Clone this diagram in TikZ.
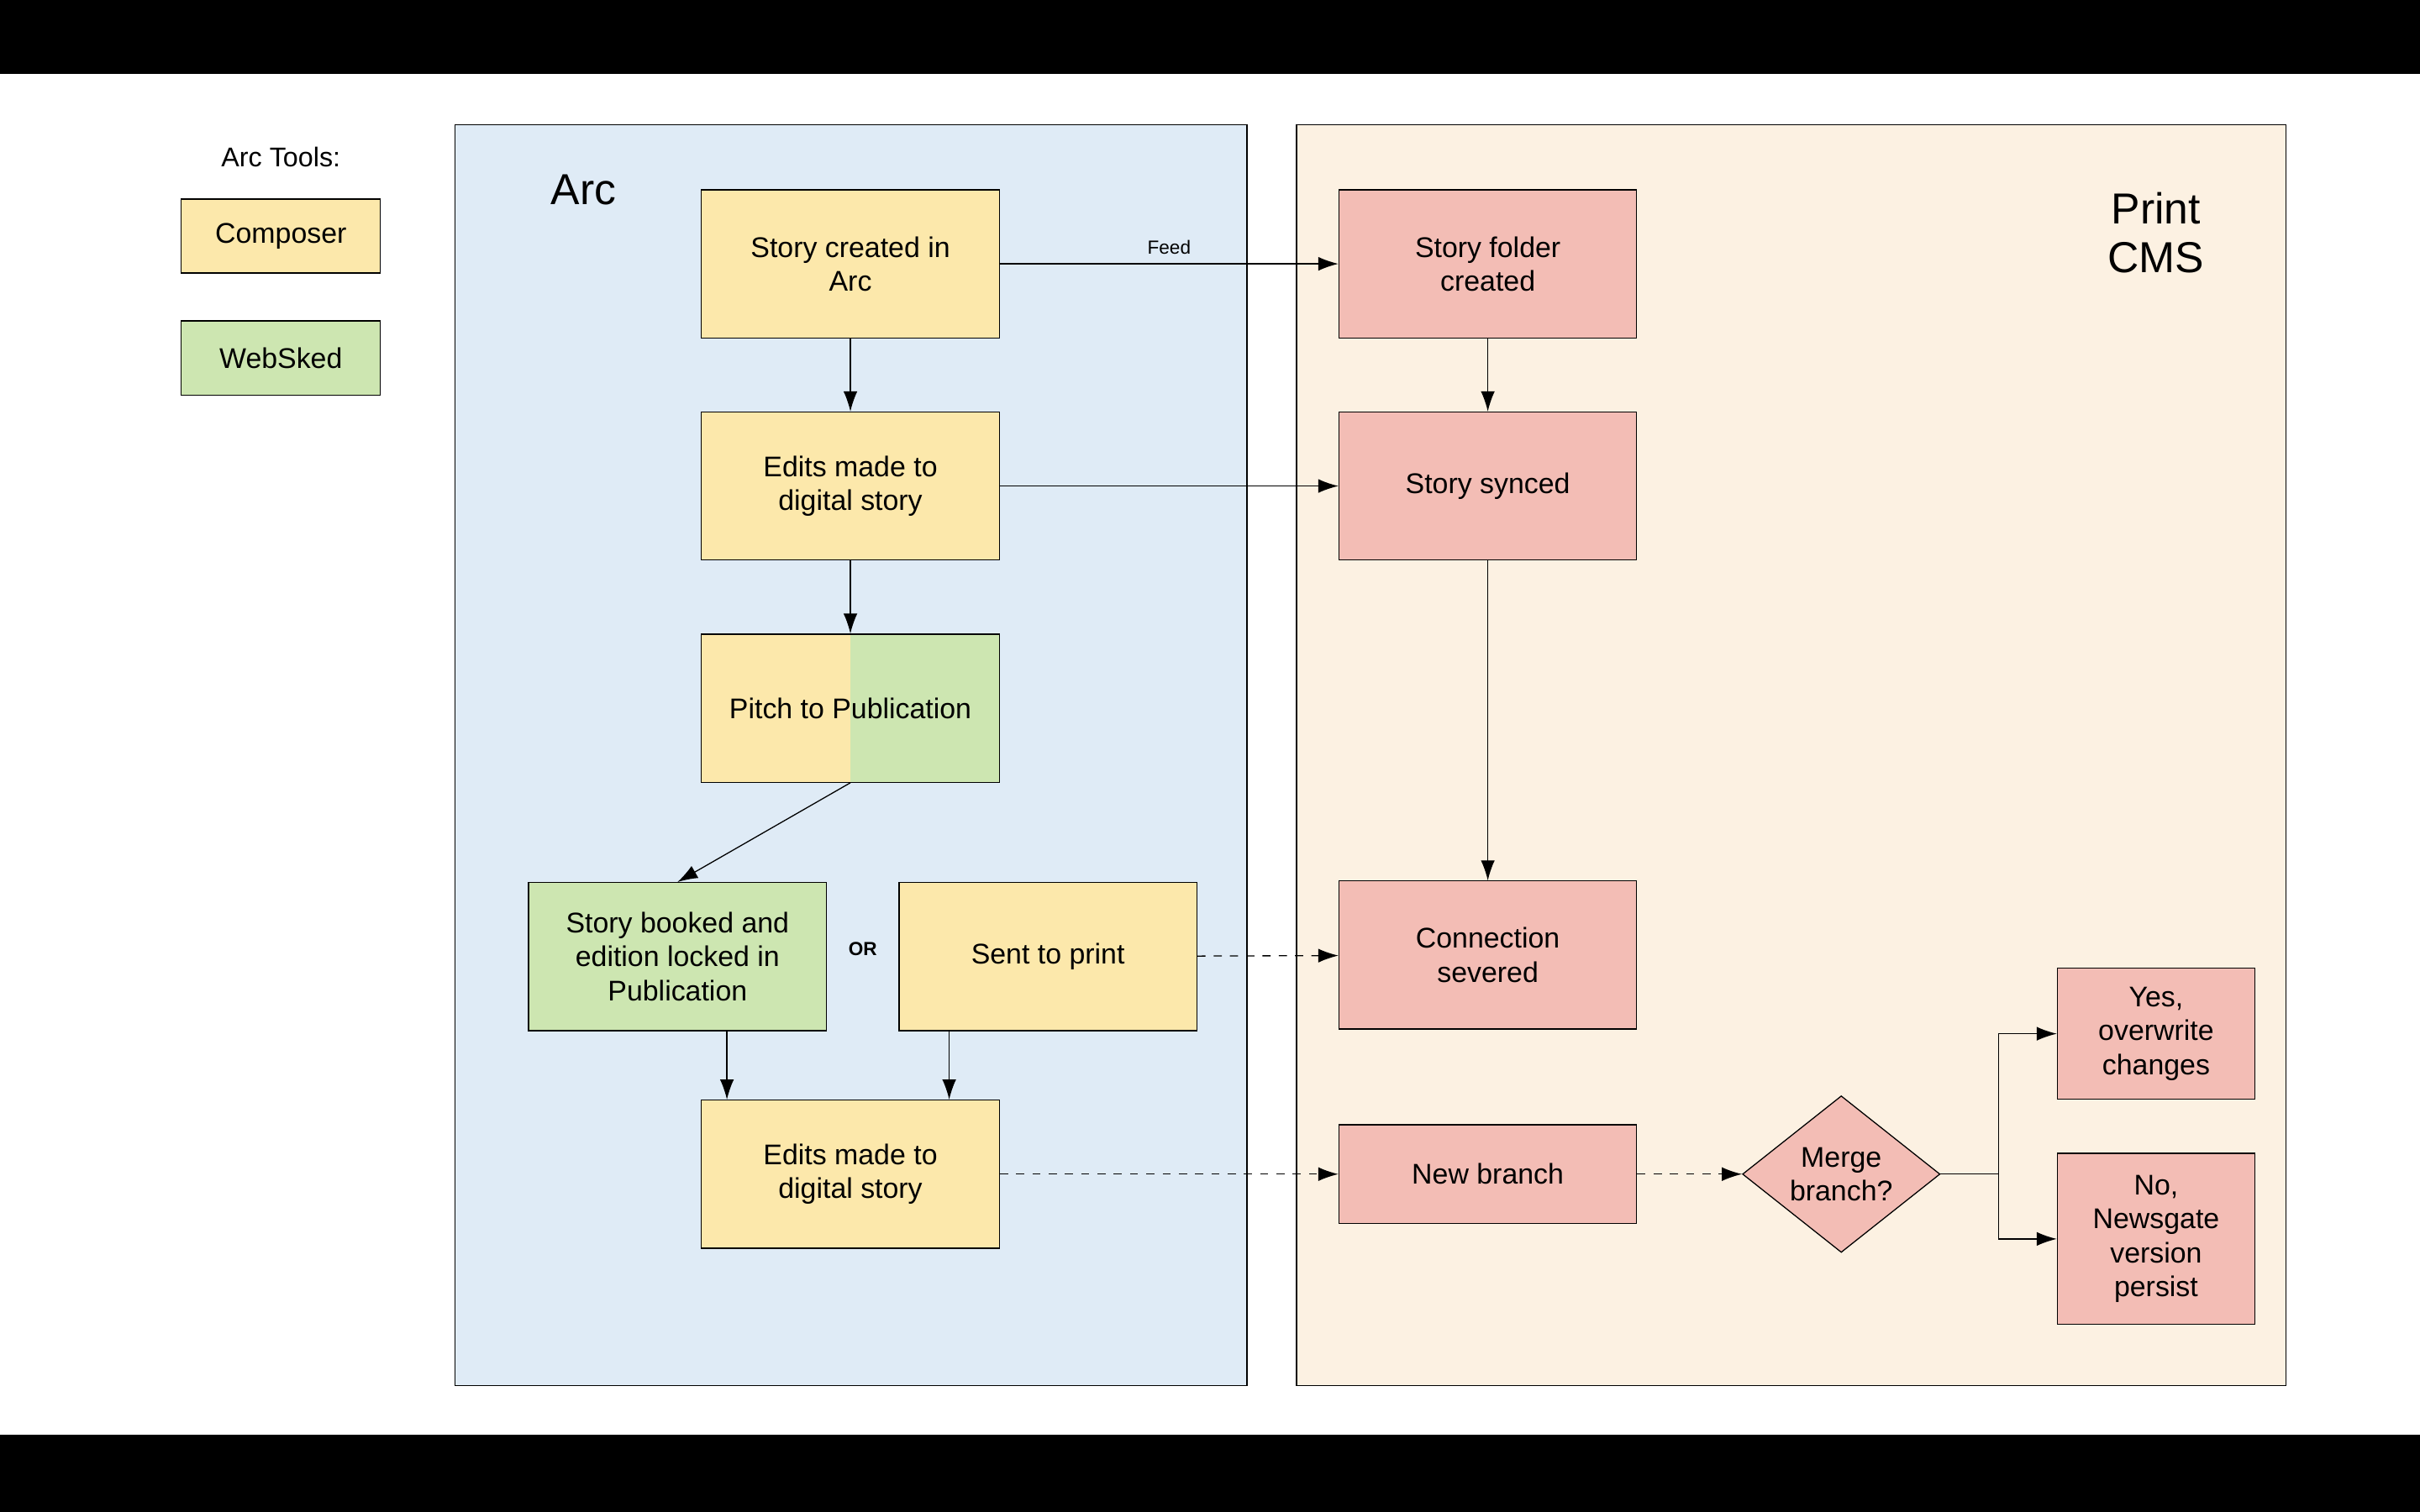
\documentclass[tikz,border=0pt]{standalone}
\usepackage{fontspec}
\setmainfont{Liberation Sans}
\usetikzlibrary{positioning}
\usetikzlibrary{calc}
\usetikzlibrary{shapes.geometric}
\usetikzlibrary{arrows.meta}
\definecolor{compyel}{HTML}{FCE8AB}
\definecolor{skedgrn}{HTML}{CDE6B1}
\definecolor{cmsred}{HTML}{F3BDB5}
\definecolor{arcblue}{HTML}{DFEBF6}
\definecolor{cmsbeige}{HTML}{FCF1E2}
\tikzset{>={Latex[length=2.6mm,width=1.8mm]}}
\tikzset{stepbox/.style={draw, rectangle, minimum width=3.86cm, minimum height=1.92cm, inner sep=2pt, align=center, font=\fontsize{10.5}{12.5}\selectfont}}
\tikzset{arcbox/.style={stepbox, fill=compyel}}
\tikzset{skedbox/.style={stepbox, fill=skedgrn}}
\tikzset{cmsbox/.style={stepbox, fill=cmsred}}
\tikzset{keybox/.style={draw, minimum width=2.58cm, minimum height=0.96cm, font=\fontsize{10.5}{12.5}\selectfont}}

\begin{document}
\begin{tikzpicture}[x=0.02cm, y=-0.02cm]

% frame
\fill[black] (0,0) rectangle (1568,980);
\fill[white] (0,48) rectangle (1568,930);
\useasboundingbox (0,0) rectangle (1568,980);

% panels
\draw[fill=arcblue] (295,81) rectangle (808,898);
\draw[fill=cmsbeige] (840,81) rectangle (1481,898);
\node[font=\fontsize{16}{18}\selectfont] (arctitle) at (378,123) {Arc};
\node[font=\fontsize{16}{18}\selectfont, align=center] (cmstitle) at (1397,151) {Print\\CMS};

% legend
\node[font=\fontsize{10}{12}\selectfont] (tools) at (182,102) {Arc Tools:};
\node[keybox, fill=compyel] (composer) at (182,153) {Composer};
\node[keybox, fill=skedgrn] (websked) at (182,232) {WebSked};

% arc side
\node[arcbox] (created) at (551,171) {Story created in\\Arc};
\node[arcbox] (edits) at (551,315) {Edits made to\\digital story};
\node[stepbox, path picture={
  \fill[compyel] (path picture bounding box.south west) rectangle ($(path picture bounding box.north)+(-0.2,0)$);
  \fill[skedgrn] ($(path picture bounding box.south)+(0.1,0)$) rectangle (path picture bounding box.north east);
  \shade[left color=compyel, right color=skedgrn] ($(path picture bounding box.south)+(-0.2,0)$) rectangle ($(path picture bounding box.north)+(0.1,0)$);
}] (pitch) at (551,459) {Pitch to Publication};
\node[skedbox] (booked) at (439,620) {Story booked and\\edition locked in\\Publication};
\node[arcbox] (sent) at (679,620) {Sent to print};
\node[font=\bfseries\fontsize{7}{8}\selectfont] (or) at (559,615) {OR};
\node[arcbox] (edits2) at (551,761) {Edits made to\\digital story};

% cms side
\node[cmsbox] (folder) at (964,171) {Story folder\\created};
\node[cmsbox] (synced) at (964,315) {Story synced};
\node[cmsbox] (severed) at (964,619) {Connection\\severed};
\node[cmsbox, minimum height=1.28cm] (branch) at (964,761) {New branch};
\node[draw, diamond, fill=cmsred, minimum width=2.56cm, minimum height=1.92cm, inner sep=0pt, align=center, font=\fontsize{10.5}{12.5}\selectfont] (merge) at (1193,761) {Merge\\branch?};
\node[cmsbox, minimum width=2.56cm, minimum height=1.7cm] (yes) at (1397,670) {Yes,\\overwrite\\changes};
\node[cmsbox, minimum width=2.56cm, minimum height=2.22cm] (no) at (1397,803) {No,\\Newsgate\\version\\persist};
\coordinate (fork) at (1295,761);

% connectors
\draw[->] (created) -- node[above, font=\fontsize{7}{8}\selectfont] {Feed} (folder);
\draw[->] (created) -- (edits);
\draw[->] (edits) -- (pitch);
\draw[->] (edits) -- (synced);
\draw[->] (folder) -- (synced);
\draw[->] (synced) -- (severed);
\draw[->] (pitch.south) -- (booked.north);
\draw[->] (booked.south -| 471,0) -- (edits2.north -| 471,0);
\draw[->] (sent.south -| 615,0) -- (edits2.north -| 615,0);
\draw[->, dashed] (sent) -- (severed);
\draw[->, dashed] (edits2) -- (branch);
\draw[->, dashed] (branch) -- (merge);
\draw (merge) -- (fork);
\draw[->] (fork) |- (yes);
\draw[->] (fork) |- (no);

\end{tikzpicture}
\end{document}
